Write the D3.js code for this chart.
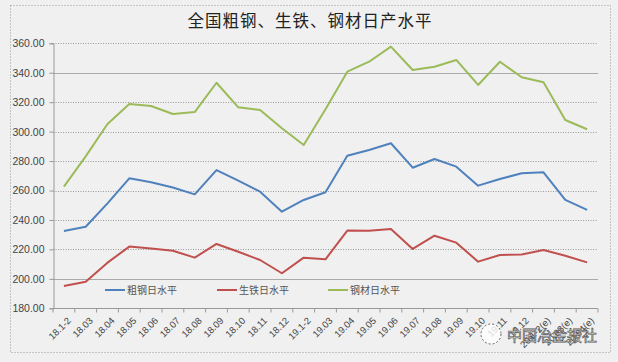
<!DOCTYPE html>
<html>
<head>
<meta charset="utf-8">
<script src="https://cdn.jsdelivr.net/npm/d3@7"></script>
<style>
  body { margin: 0; background: #f0f0f0; }
  text { font-family: "Noto Sans CJK SC", "Noto Sans", sans-serif; }
</style>
</head>
<body>
<div id="chart"></div>
<script>
// categories (months), last three are estimates
var months = ["18.1-2","18.03","18.04","18.05","18.06","18.07","18.08","18.09","18.10","18.11","18.12",
              "19.1-2","19.03","19.04","19.05","19.06","19.07","19.08","19.09","19.10","19.11","19.12",
              "20.1-2(e)","20.03(e)","20.04(e)"];

var crudeSteel = [232.5,235.4,251.3,268.3,265.6,262.0,257.4,273.9,266.7,259.2,245.6,
                  253.6,258.8,283.6,287.5,292.1,275.5,281.4,276.2,263.3,267.8,271.7,272.4,253.6,246.8];
var pigIron    = [195.1,198.1,211.0,221.9,220.7,219.1,214.4,223.7,218.4,212.8,203.8,
                  214.4,213.3,232.8,232.7,233.9,220.3,229.3,224.6,211.7,216.2,216.6,219.6,215.7,211.2];
var steelProd  = [262.6,283.2,305.2,318.8,317.4,312.0,313.3,333.2,316.5,314.7,302.3,
                  290.9,315.2,340.7,347.5,357.7,341.9,344.1,348.7,331.7,347.5,336.9,333.5,307.9,301.6];

var yTicks = [180,200,220,240,260,280,300,320,340,360];

var seriesNames = ["粗钢日水平","生铁日水平","钢材日水平"];
var colors = ["#4f81bd","#c0504d","#9bbb59"];

var width = 618, height = 362;
var plotL = 53, plotR = 598, plotT = 43.3, plotB = 308.3;

var svg = d3.select("#chart").append("svg")
    .attr("width", width)
    .attr("height", height);

svg.append("rect")
    .attr("x", 0).attr("y", 0)
    .attr("width", width).attr("height", height)
    .attr("fill", "#f0f0f0");

// outer dotted frame
svg.append("rect")
    .attr("x", 10.5).attr("y", 5.5)
    .attr("width", 600).attr("height", 347)
    .attr("fill", "none")
    .attr("stroke", "#999")
    .attr("stroke-dasharray", "1,2");

var x = d3.scaleBand().domain(months).range([plotL, plotR]);
var y = d3.scaleLinear().domain([180, 360]).range([plotB, plotT]);

// gridlines
svg.selectAll(".grid")
    .data(yTicks.filter(function(d){ return d !== 180; }))
    .enter().append("line")
    .attr("class", "grid")
    .attr("x1", plotL).attr("x2", plotR)
    .attr("y1", function(d){ return Math.round(y(d)) + 0.5; })
    .attr("y2", function(d){ return Math.round(y(d)) + 0.5; })
    .attr("stroke", function(d){ return (d === 340 || d === 200) ? "#aaa" : "#999"; })
    .attr("stroke-dasharray", function(d){ return (d === 340 || d === 200) ? null : "1,1.5"; });

// y axis
var yAxis = d3.axisLeft(y)
    .tickValues(yTicks)
    .tickFormat(d3.format(".2f"))
    .tickSize(4)
    .tickPadding(5);

var gy = svg.append("g")
    .attr("transform", "translate(" + (plotL + 0.5) + ",0)")
    .call(yAxis);
gy.select(".domain").attr("stroke", "#999");
gy.selectAll(".tick line").attr("stroke", "#999");
gy.selectAll(".tick text")
    .attr("fill", "#444")
    .style("font-size", "10.5px")
    .style("font-family", "'Liberation Sans', sans-serif");

// x axis with ticks at category boundaries
var gx = svg.append("g")
    .attr("transform", "translate(0," + (Math.round(plotB) + 0.5) + ")");
gx.append("line")
    .attr("x1", plotL).attr("x2", plotR)
    .attr("stroke", "#999");
gx.selectAll(".xtick")
    .data(d3.range(months.length + 1))
    .enter().append("line")
    .attr("class", "xtick")
    .attr("x1", function(i){ return plotL + i * x.bandwidth(); })
    .attr("x2", function(i){ return plotL + i * x.bandwidth(); })
    .attr("y1", 0).attr("y2", 4)
    .attr("stroke", "#999");
gx.selectAll(".xlabel")
    .data(months)
    .enter().append("text")
    .attr("class", "xlabel")
    .attr("transform", function(d){
        return "translate(" + (x(d) + x.bandwidth() / 2 + 3) + ",8) rotate(-45)";
    })
    .attr("text-anchor", "end")
    .attr("dy", "0.7em")
    .attr("fill", "#444")
    .style("font-size", "9.5px")
    .style("font-family", "'Liberation Sans', sans-serif")
    .text(function(d){ return d; });

// lines
var allSeries = [crudeSteel, pigIron, steelProd];
var line = d3.line()
    .x(function(d, i){ return x(months[i]) + x.bandwidth() / 2; })
    .y(function(d){ return y(d); });

svg.selectAll(".series")
    .data(allSeries)
    .enter().append("path")
    .attr("class", "series")
    .attr("d", line)
    .attr("fill", "none")
    .attr("stroke", function(d, i){ return colors[i]; })
    .attr("stroke-width", 2)
    .attr("stroke-linejoin", "round");

// legend
var legendX = [105, 217, 328];
var lg = svg.selectAll(".legend")
    .data(seriesNames)
    .enter().append("g")
    .attr("class", "legend")
    .attr("transform", function(d, i){ return "translate(" + legendX[i] + ",290)"; });
lg.append("line")
    .attr("x1", 0).attr("x2", 20)
    .attr("stroke", function(d, i){ return colors[i]; })
    .attr("stroke-width", 2);
lg.append("text")
    .attr("x", 22).attr("dy", "0.35em")
    .attr("fill", "#555")
    .style("font-size", "10px")
    .text(function(d){ return d; });

// title
svg.append("text")
    .attr("x", 310).attr("y", 27)
    .attr("text-anchor", "middle")
    .attr("fill", "#222")
    .style("font-size", "16.5px")
    .style("letter-spacing", "1px")
    .text("全国粗钢、生铁、钢材日产水平");

// watermark
svg.append("circle")
    .attr("cx", 491).attr("cy", 334).attr("r", 10)
    .attr("fill", "#fff")
    .attr("fill-opacity", 0.8)
    .attr("stroke", "#666")
    .attr("stroke-dasharray", "2,2");
svg.append("text")
    .attr("x", 507).attr("y", 341)
    .attr("fill", "#fff")
    .attr("stroke", "#555")
    .attr("stroke-width", 0.7)
    .style("font-size", "15px")
    .text("中国冶金报社");
</script>
</body>
</html>
